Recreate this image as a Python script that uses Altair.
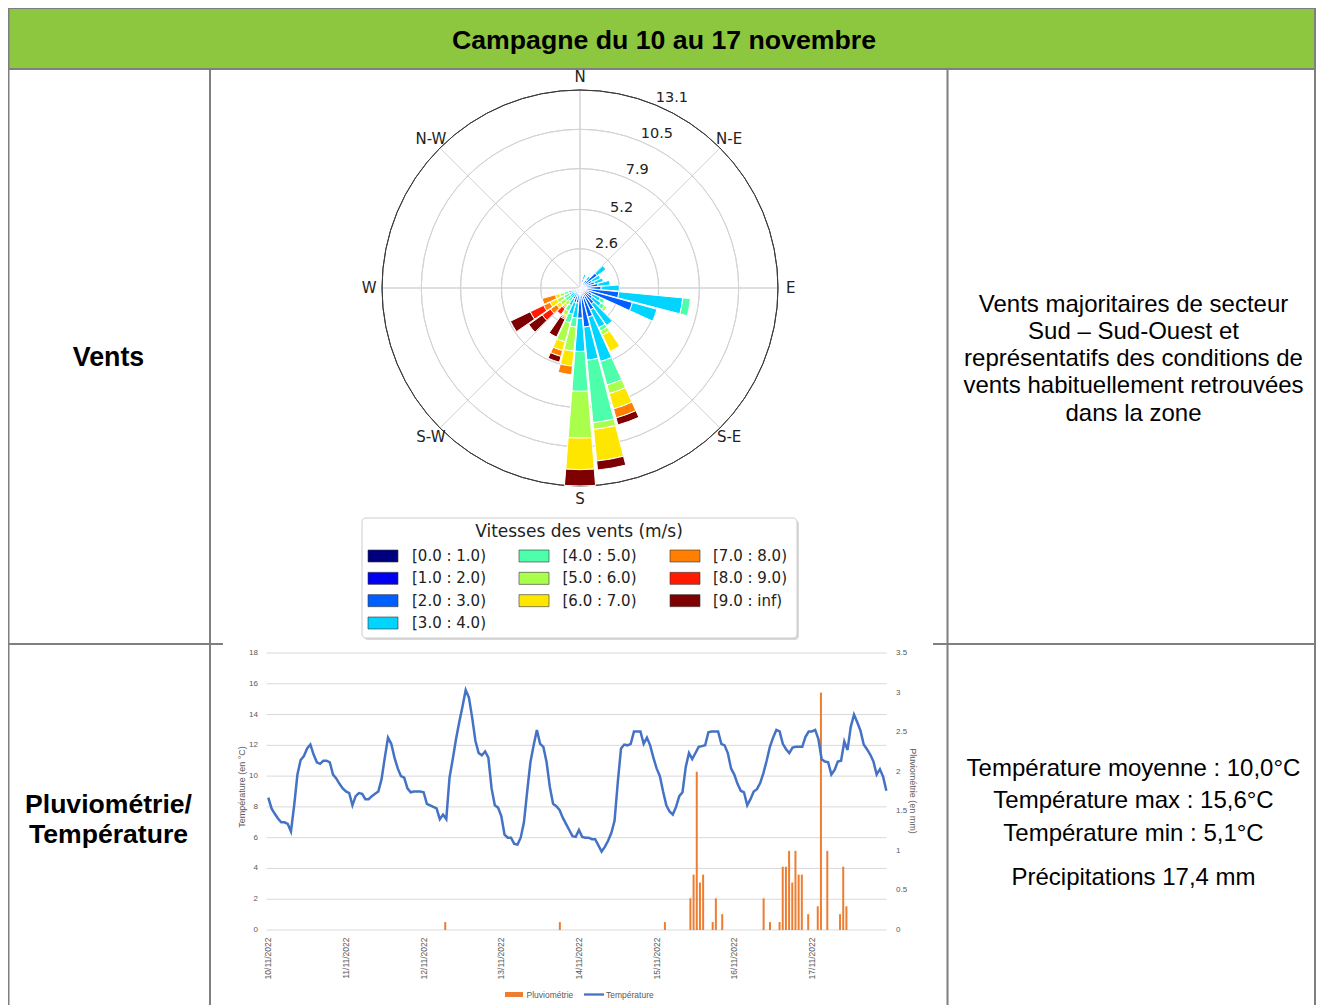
import altair as alt
import pandas as pd

# ---------------------------------------------------------------- texts
titre = "Campagne du 10 au 17 novembre"
lignes_vents = ["Vents majoritaires de secteur", "Sud – Sud-Ouest et",
                "représentatifs des conditions de", "vents habituellement retrouvées",
                "dans la zone"]
lignes_temp = ["Température moyenne : 10,0°C", "Température max : 15,6°C",
               "Température min : 5,1°C", "Précipitations 17,4 mm"]

# ---------------------------------------------------------------- wind rose data (% of time)
directions = [20, 40, 50, 60, 70, 80, 90, 100, 110, 120, 130, 140, 150,
              160, 170, 180, 190, 200, 210, 220, 230, 240, 250]
classes = ["[0.0 : 1.0)", "[1.0 : 2.0)", "[2.0 : 3.0)", "[3.0 : 4.0)", "[4.0 : 5.0)",
           "[5.0 : 6.0)", "[6.0 : 7.0)", "[7.0 : 8.0)", "[8.0 : 9.0)", "[9.0 : inf)"]
couleurs = ["#00007F", "#0000F1", "#0060FF", "#00D4FF", "#4DFFAA",
            "#AAFF4D", "#FFE600", "#FF7F00", "#FF1A00", "#7F0000"]
v0 = [0.05] * 23
v1 = [0.25, 0.2, 0.25, 0.25, 0.25, 0.35, 0.35, 0.35, 0.45, 0.25, 0.25, 0.25, 0.35,
      0.35, 0.45, 0.45, 0.25, 0.25, 0.25, 0.15, 0.15, 0.15, 0.15]
v2 = [0.3, 0.4, 1.1, 0.6, 0.7, 0.8, 1.0, 2.18, 3.1, 0.6, 0.7, 1.0, 1.2,
      1.6, 2.1, 1.5, 0.7, 0.7, 0.5, 0.3, 0.3, 0.3, 0.3]
v3 = [0.35, 0.3, 0.7, 0.6, 0.6, 0.8, 1.2, 4.25, 1.68, 0.6, 0.7, 1.74, 1.3,
      3.05, 2.2, 2.2, 1.0, 0.8, 0.5, 0.3, 0.3, 0.3, 0.3]
v4 = [0, 0, 0, 0, 0, 0, 0, 0.51, 0, 0.3, 0.3, 0, 0.25,
      1.61, 4.15, 2.64, 0.6, 0.6, 0.4, 0.3, 0.4, 0.4, 0.3]
v5 = [0, 0, 0, 0, 0, 0, 0, 0, 0, 0, 0.2, 0, 0.3,
      0.59, 0.45, 3.09, 1.6, 1.3, 0.3, 0.3, 0.4, 0.5, 0.3]
v6 = [0, 0, 0, 0, 0, 0, 0, 0, 0, 0, 0, 0, 1.2,
      1.05, 2.1, 2.09, 1.0, 0.6, 0.1, 0.2, 0.3, 0.5, 0.3]
v7 = [0, 0, 0, 0, 0, 0, 0, 0, 0, 0, 0, 0, 0,
      0.62, 0, 0, 0.56, 0.4, 0.1, 0.1, 0.5, 0.47, 0.9]
v8 = [0, 0, 0, 0, 0, 0, 0, 0, 0, 0, 0, 0, 0,
      0, 0, 0, 0, 0, 0.1, 0.45, 0.67, 0.98, 0]
v9 = [0, 0, 0, 0, 0, 0, 0, 0, 0, 0, 0, 0, 0,
      0.48, 0.6, 1.08, 0, 0.4, 1.3, 0, 1.1, 1.45, 0]
anneaux = [2.6, 5.2, 7.9, 10.5, 13.1]
points_cardinaux = ["N", "N-E", "E", "S-E", "S", "S-W", "W", "N-W"]
angles_cardinaux = [0, 45, 90, 135, 180, 225, 270, 315]

# ---------------------------------------------------------------- weather data (hourly)
temperature = [
    8.6, 7.9, 7.55, 7.25, 7.0, 7.0, 6.9, 6.4, 8.1, 10.1, 11.05, 11.3, 11.8, 12.05, 11.4, 10.9,
    10.8, 11.0, 11.0, 10.9, 10.1, 9.85, 9.5, 9.2,
    9.0, 8.9, 8.1, 8.7, 8.9, 8.85, 8.5, 8.5, 8.7, 8.85, 9.0, 9.8, 11.2, 12.5, 12.1, 11.2,
    10.5, 10.0, 9.9, 9.2, 8.95, 9.0, 9.0, 9.0,
    8.95, 8.2, 8.1, 8.0, 7.9, 7.2, 7.5, 7.2, 9.9, 11.1, 12.4, 13.5, 14.5, 15.6, 15.1, 13.8,
    12.3, 11.5, 11.35, 11.6, 11.2, 9.2, 8.1, 7.95,
    7.4, 6.2, 6.0, 6.0, 5.6, 5.55, 6.0, 7.0, 9.0, 10.9, 12.0, 13.0, 12.1, 11.9, 10.9, 9.3,
    8.2, 8.05, 7.8, 7.3, 6.9, 6.5, 6.1, 6.05,
    6.5, 6.05, 6.0, 6.0, 5.9, 5.9, 5.5, 5.1, 5.4, 5.8, 6.3, 7.1, 9.6, 11.8, 12.05, 12.0,
    12.1, 12.9, 12.9, 12.9, 12.1, 12.5, 12.0, 11.2,
    10.5, 10.0, 9.0, 8.1, 7.7, 7.5, 8.0, 8.7, 8.95, 10.6, 11.5, 11.1, 11.5, 11.9, 11.95, 12.0,
    12.85, 12.9, 12.9, 12.9, 12.1, 12.0, 11.5, 10.5,
    10.1, 9.5, 9.05, 8.95, 8.1, 8.5, 9.0, 9.15, 9.55, 10.2, 11.0, 11.9, 12.5, 13.0, 12.9, 12.1,
    11.75, 11.5, 11.85, 11.9, 11.9, 11.9, 12.55, 12.9,
    12.9, 13.0, 12.4, 11.1, 10.95, 10.9, 10.1, 10.4, 10.95, 11.0, 12.25, 11.7, 13.2, 14.0, 13.5, 12.95,
    12.05, 11.75, 11.4, 10.95, 10.1, 10.45, 9.95, 9.05]
heures = list(range(len(temperature)))
heures_pluie = [54, 90, 123, 131, 132, 133, 134, 135, 138, 139, 141, 154, 156, 159, 160,
                161, 162, 163, 164, 165, 166, 168, 171, 172, 174, 178, 179, 180]
pluie_mm = [0.1, 0.1, 0.1, 0.4, 0.7, 2.0, 0.6, 0.7, 0.1, 0.4, 0.2, 0.4, 0.1, 0.1, 0.8,
            0.8, 1.0, 0.6, 1.0, 0.7, 0.7, 0.2, 0.3, 3.0, 1.0, 0.2, 0.8, 0.3]
jours = ["10/11/2022", "11/11/2022", "12/11/2022", "13/11/2022",
         "14/11/2022", "15/11/2022", "16/11/2022", "17/11/2022"]
ticks_temp = [0, 2, 4, 6, 8, 10, 12, 14, 16, 18]
ticks_pluie = ["0", "0.5", "1", "1.5", "2", "2.5", "3", "3.5"]

# ---------------------------------------------------------------- helpers
O = 8  # page margin: reference pixel -> chart pixel
W, H = 1308, 997
XR = 1315  # right border (reference pixel)
one = pd.DataFrame({"k": [0]})
layers = []


def seg(x1, y1, x2, y2, color="#7F7F7F", w=2.0):
    return alt.Chart(one).mark_rule(color=color, strokeWidth=w).encode(
        x=alt.value(x1 - O), y=alt.value(y1 - O), x2=alt.value(x2 - O), y2=alt.value(y2 - O))


def txt(text, x, y, size, weight="normal", font="Liberation Sans", align="center",
        baseline="alphabetic", angle=0, color="#000000"):
    return alt.Chart(pd.DataFrame({"t": [text]})).mark_text(
        fontSize=size, fontWeight=weight, font=font, align=align, baseline=baseline,
        angle=angle, color=color).encode(x=alt.value(x - O), y=alt.value(y - O), text="t:N")


def lines_block(lines, x, y0, dys, size):
    out = []
    y = y0
    for i, l in enumerate(lines):
        out.append(txt(l, x, y, size))
        if i < len(dys):
            y += dys[i]
    return out


# ---------------------------------------------------------------- table
layers.append(alt.Chart(one).mark_rect(color="#8DC63F").encode(
    x=alt.value(0), x2=alt.value(XR - O), y=alt.value(0), y2=alt.value(69 - O)))
layers.append(txt(titre, 664, 48.5, 26.7, weight="bold"))
layers.append(txt("Vents", 108.5, 365.5, 26.8, weight="bold"))
layers.append(txt("Pluviométrie/", 108.5, 813, 26.6, weight="bold"))
layers.append(txt("Température", 108.5, 843, 26.6, weight="bold"))
layers += lines_block(lignes_vents, 1133.5, 311.5, [27.3, 27.3, 27.3, 27.3], 24)
layers += lines_block(lignes_temp, 1133.5, 775.5, [32.8, 32.8, 44.3], 24)

# ---------------------------------------------------------------- wind rose
CX, CY = 580 - O, 288 - O
theta_sc = alt.Scale(domain=[0, 360], range=[0, 6.283185307179586], nice=False, zero=False)
rad_sc = alt.Scale(type="linear", domain=[0, 13.1], range=[0, 198], zero=True, nice=False)

rose_rows = []
series = [v0, v1, v2, v3, v4, v5, v6, v7, v8, v9]
for j, d in enumerate(directions):
    cum = 0.0
    for b in range(10):
        f = series[b][j]
        if f > 0:
            rose_rows.append({"a0": d - 4.5, "a1": d + 4.5, "r0": cum, "r1": cum + f,
                              "classe": classes[b]})
            cum += f
rose_df = pd.DataFrame(rose_rows)

ring_df = pd.DataFrame({"r": anneaux, "a0": [0] * 5, "a1": [360] * 5})
layers.append(alt.Chart(ring_df.iloc[:-1]).mark_arc(fillOpacity=0, stroke="#D3D3D3", strokeWidth=1).encode(
    x=alt.value(CX), y=alt.value(CY),
    theta=alt.Theta("a0:Q", scale=theta_sc, stack=None), theta2="a1:Q",
    radius=alt.Radius("r:Q", scale=rad_sc), radius2="r:Q"))
spoke_df = pd.DataFrame({"a": angles_cardinaux, "r": [13.1] * 8, "z": [0] * 8})
layers.append(alt.Chart(spoke_df).mark_arc(fillOpacity=0, stroke="#D3D3D3", strokeWidth=1).encode(
    x=alt.value(CX), y=alt.value(CY),
    theta=alt.Theta("a:Q", scale=theta_sc, stack=None), theta2="a:Q",
    radius=alt.Radius("r:Q", scale=rad_sc), radius2="z:Q"))
layers.append(alt.Chart(ring_df.iloc[-1:]).mark_arc(fillOpacity=0, stroke="#3A3A3A", strokeWidth=1).encode(
    x=alt.value(CX), y=alt.value(CY),
    theta=alt.Theta("a0:Q", scale=theta_sc, stack=None), theta2="a1:Q",
    radius=alt.Radius("r:Q", scale=rad_sc), radius2="r:Q"))
layers.append(alt.Chart(rose_df).mark_arc(stroke="white", strokeWidth=1).encode(
    x=alt.value(CX), y=alt.value(CY),
    theta=alt.Theta("a0:Q", scale=theta_sc, stack=None), theta2="a1:Q",
    radius=alt.Radius("r1:Q", scale=rad_sc), radius2="r0:Q",
    color=alt.Color("classe:N", scale=alt.Scale(domain=classes, range=couleurs), legend=None)))
lab_df = pd.DataFrame({"t": points_cardinaux, "a": angles_cardinaux, "r": [13.95] * 8})
layers.append(alt.Chart(lab_df).mark_text(font="DejaVu Sans", fontSize=15, color="#222222",
                                          baseline="middle").encode(
    x=alt.value(CX), y=alt.value(CY), text="t:N",
    theta=alt.Theta("a:Q", scale=theta_sc, stack=None), radius=alt.Radius("r:Q", scale=rad_sc)))
rl_df = pd.DataFrame({"t": [str(a) for a in anneaux], "a": [22.5] * 5, "r": anneaux})
layers.append(alt.Chart(rl_df).mark_text(font="DejaVu Sans", fontSize=14.5, color="#222222",
                                         align="left", baseline="alphabetic", dy=-3.5).encode(
    x=alt.value(CX), y=alt.value(CY), text="t:N",
    theta=alt.Theta("a:Q", scale=theta_sc, stack=None), radius=alt.Radius("r:Q", scale=rad_sc)))

# legend of the rose
layers.append(alt.Chart(one).mark_rect(color="#BFBFBF", cornerRadius=4, opacity=0.6).encode(
    x=alt.value(364 - O), x2=alt.value(799 - O), y=alt.value(520 - O), y2=alt.value(640 - O)))
layers.append(alt.Chart(one).mark_rect(fill="white", stroke="#CCCCCC", strokeWidth=1, cornerRadius=4).encode(
    x=alt.value(362 - O), x2=alt.value(797 - O), y=alt.value(518 - O), y2=alt.value(638 - O)))
layers.append(txt("Vitesses des vents (m/s)", 579, 532, 17, font="DejaVu Sans",
                  baseline="middle", color="#222222"))
leg_df = pd.DataFrame({"classe": classes, "col": [0, 0, 0, 0, 1, 1, 1, 2, 2, 2],
                       "row": [0, 1, 2, 3, 0, 1, 2, 0, 1, 2]})
layers.append(alt.Chart(leg_df).mark_point(shape="M-1,-0.4L1,-0.4L1,0.4L-1,0.4Z", size=900,
                                           filled=True, opacity=1, stroke="#333333",
                                           strokeWidth=0.6).encode(
    x=alt.X("col:Q", scale=alt.Scale(domain=[0, 2], range=[383 - O, 685 - O], nice=False, zero=False), axis=None),
    y=alt.Y("row:Q", scale=alt.Scale(domain=[0, 3], range=[556 - O, 623 - O], nice=False, zero=False), axis=None),
    fill=alt.Fill("classe:N", scale=alt.Scale(domain=classes, range=couleurs), legend=None)))
layers.append(alt.Chart(leg_df).mark_text(font="DejaVu Sans", fontSize=15, align="left",
                                          baseline="middle", color="#222222").encode(
    x=alt.X("col:Q", scale=alt.Scale(domain=[0, 2], range=[412 - O, 713 - O], nice=False, zero=False), axis=None),
    y=alt.Y("row:Q", scale=alt.Scale(domain=[0, 3], range=[556 - O, 623 - O], nice=False, zero=False), axis=None),
    text="classe:N"))

# ---------------------------------------------------------------- temperature / rain chart
x_sc = alt.Scale(domain=[0, 192], range=[268.3 - O, 268.3 - O + 192 * 3.236], nice=False, zero=False)
yt_sc = alt.Scale(domain=[0, 18], range=[930 - O, 653 - O], nice=False, zero=False)
yp_sc = alt.Scale(domain=[0, 3.5], range=[930 - O, 653 - O], nice=False, zero=False)

grid_df = pd.DataFrame({"v": ticks_temp})
layers.append(alt.Chart(grid_df).mark_rule(color="#D9D9D9", strokeWidth=1).encode(
    y=alt.Y("v:Q", scale=yt_sc, axis=None), x=alt.value(266.5 - O), x2=alt.value(886.5 - O)))
layers.append(alt.Chart(grid_df).mark_text(font="Liberation Sans", fontSize=8, align="right",
                                           baseline="middle", color="#595959").encode(
    y=alt.Y("v:Q", scale=yt_sc, axis=None), x=alt.value(258 - O), text="v:N"))
tp_df = pd.DataFrame({"t": ticks_pluie, "v": [float(t) for t in ticks_pluie]})
layers.append(alt.Chart(tp_df).mark_text(font="Liberation Sans", fontSize=8, align="left",
                                         baseline="middle", color="#595959").encode(
    y=alt.Y("v:Q", scale=yp_sc, axis=None), x=alt.value(896 - O), text="t:N"))
jour_df = pd.DataFrame({"t": jours, "h": [24 * i for i in range(len(jours))]})
layers.append(alt.Chart(jour_df).mark_text(font="Liberation Sans", fontSize=8.5, align="right",
                                           baseline="middle", angle=270, color="#595959").encode(
    x=alt.X("h:Q", scale=x_sc, axis=None), y=alt.value(937.5 - O), text="t:N"))
layers.append(txt("Température (en °C)", 241.5, 787, 9, angle=270, baseline="middle", color="#595959"))
layers.append(txt("Pluviométrie (en mm)", 913, 791, 9, angle=90, baseline="middle", color="#595959"))

pluie_df = pd.DataFrame({"h": heures_pluie, "mm": pluie_mm})
layers.append(alt.Chart(pluie_df).mark_bar(size=2, color="#ED7D31").encode(
    x=alt.X("h:Q", scale=x_sc, axis=None), y=alt.Y("mm:Q", scale=yp_sc, axis=None)))
temp_df = pd.DataFrame({"h": heures, "t": temperature})
layers.append(alt.Chart(temp_df).mark_line(color="#4472C4", strokeWidth=2.5).encode(
    x=alt.X("h:Q", scale=x_sc, axis=None), y=alt.Y("t:Q", scale=yt_sc, axis=None)))

# bottom legend
layers.append(alt.Chart(one).mark_rect(color="#ED7D31").encode(
    x=alt.value(505 - O), x2=alt.value(523 - O), y=alt.value(992 - O), y2=alt.value(997 - O)))
layers.append(txt("Pluviométrie", 526.5, 995, 8.5, align="left", baseline="middle", color="#595959"))
layers.append(seg(584, 994.5, 604, 994.5, color="#4472C4", w=2.3))
layers.append(txt("Température", 606, 995, 8.5, align="left", baseline="middle", color="#595959"))

# ---------------------------------------------------------------- borders (on top)
layers += [
    seg(8, 8, XR + 1, 8),
    seg(8, 69, XR + 1, 69),
    seg(8.5, 8, 8.5, 1005),
    seg(XR, 8, XR, 1005),
    seg(210, 69, 210, 1005),
    seg(947.5, 69, 947.5, 1005),
    seg(8, 644, 223, 644),
    seg(933, 644, XR, 644),
]

chart = alt.layer(*layers).resolve_scale(
    x="independent", y="independent", color="independent", fill="independent",
    theta="independent", radius="independent"
).properties(width=W, height=H, autosize="none", padding=0, background="white"
).configure_view(stroke=None)

chart.save("out.html", embed_options={"renderer": "svg", "actions": False})
